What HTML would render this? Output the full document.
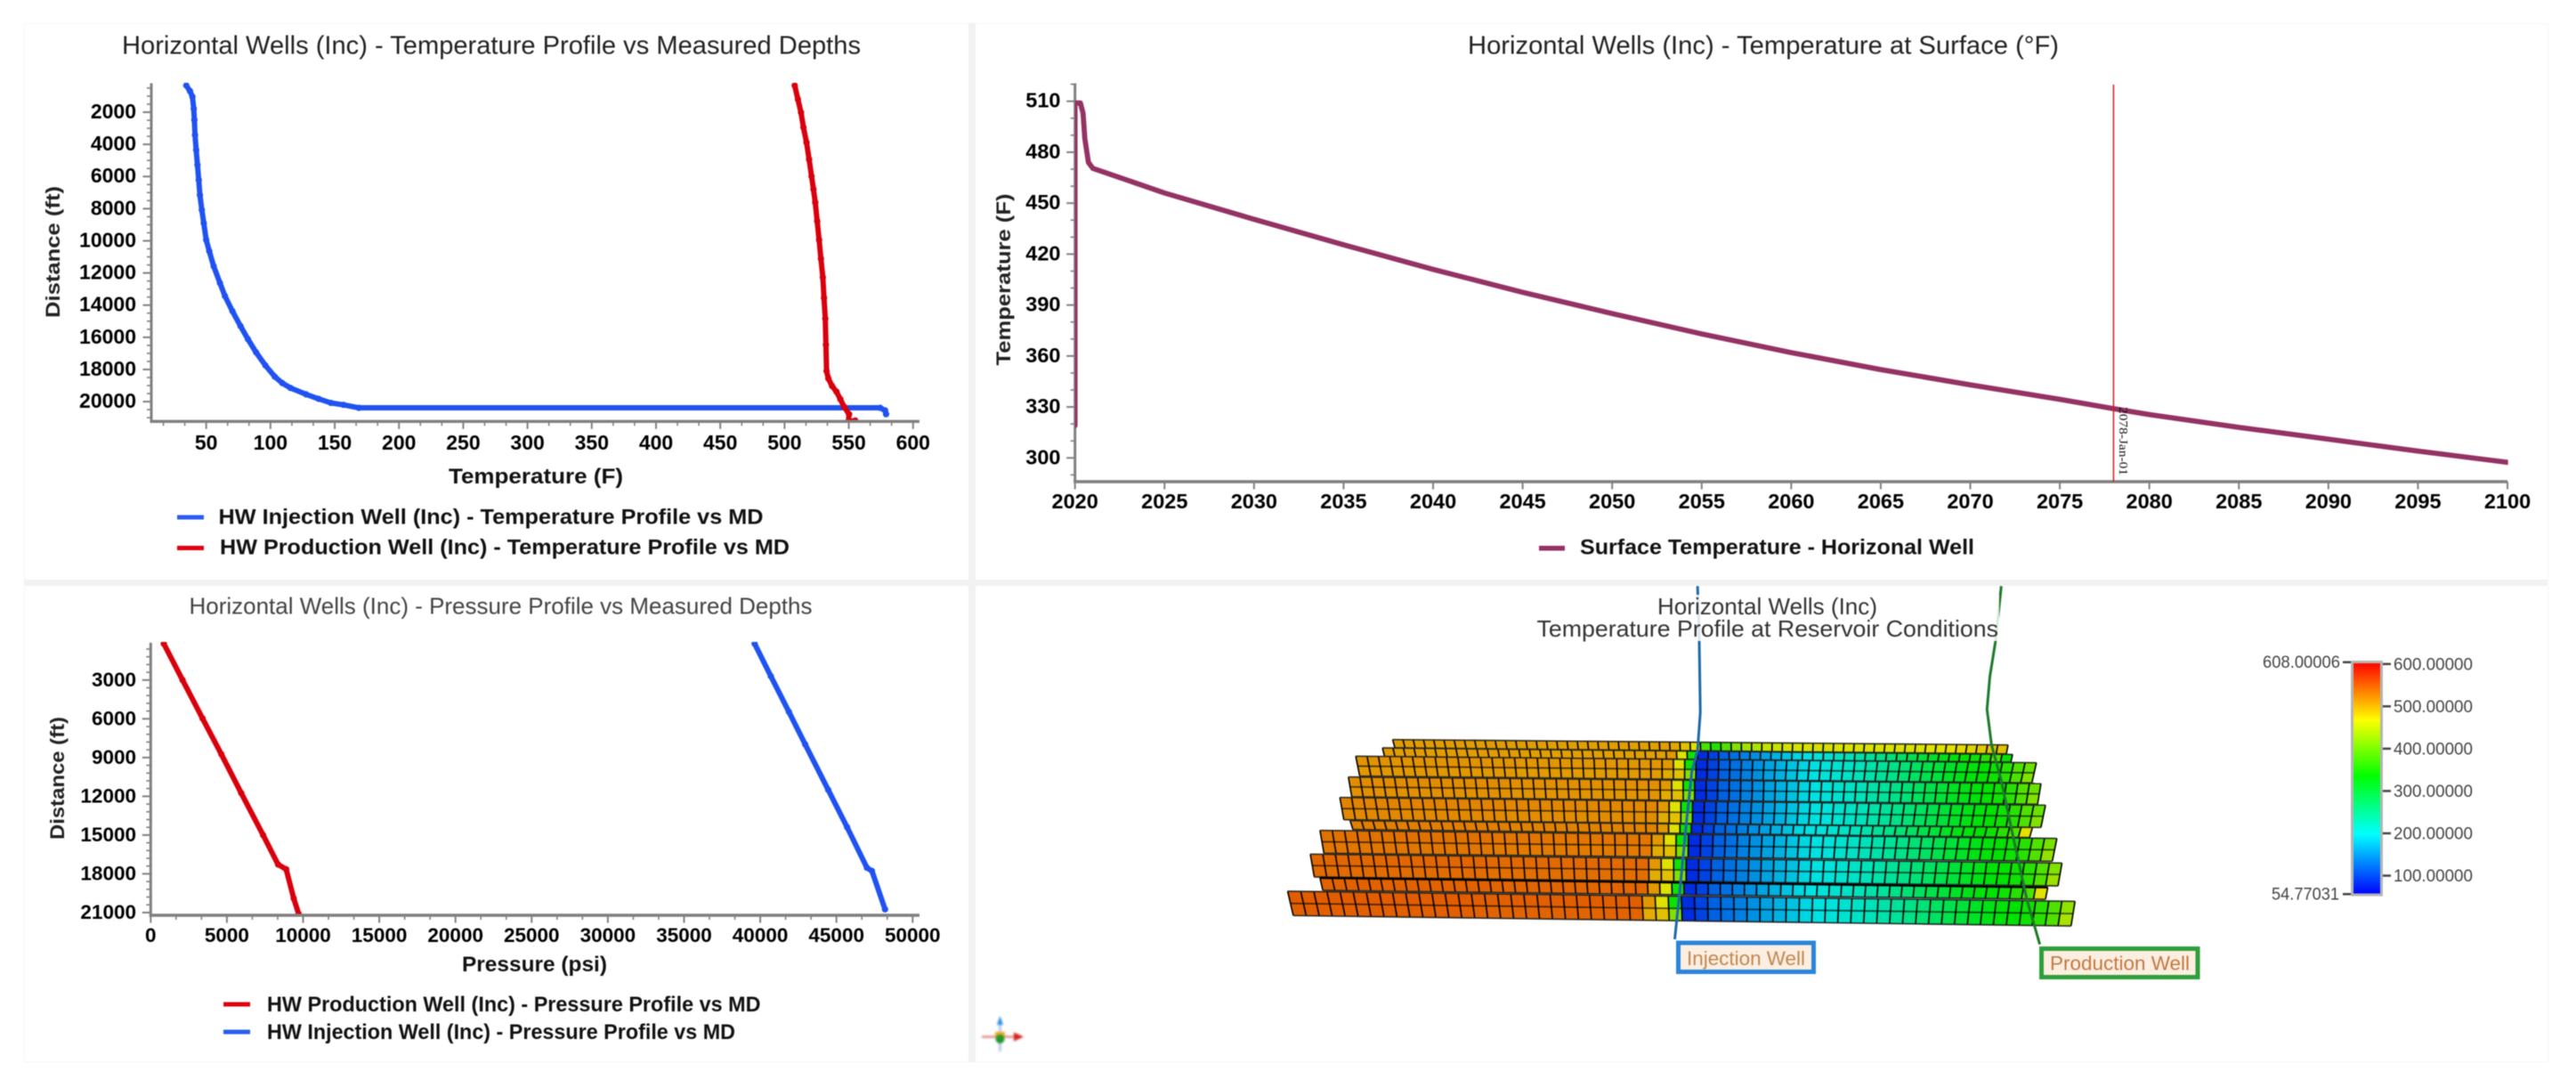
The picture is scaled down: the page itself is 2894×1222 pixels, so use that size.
<!DOCTYPE html>
<html lang="en">
<head>
<meta charset="utf-8">
<title>Horizontal Wells (Inc) dashboard</title>
<style>
  html,body{margin:0;padding:0;background:#fff;width:2894px;height:1222px;overflow:hidden;}
  svg{display:block;filter:blur(0.55px);font-family:"Liberation Sans",sans-serif;}
  .title{font-size:29px;fill:#222;}
  .axis-title{font-size:24px;font-weight:bold;fill:#111;}
  .side-title{font-size:22px;font-weight:bold;fill:#222;}
  .legend-text{font-size:24px;font-weight:bold;fill:#111;}
  .tick-label{font-size:23px;font-weight:bold;fill:#000;}
  .bar-label{font-size:19px;fill:#444;}
</style>
</head>
<body>
<svg id="root" xmlns="http://www.w3.org/2000/svg" width="2894" height="1222" viewBox="0 0 2894 1222">
  <defs>
    <clipPath id="clip-temp"><rect x="170" y="93" width="863" height="381"/></clipPath>
    <clipPath id="clip-surface"><rect x="1207.7" y="93" width="1610" height="448"/></clipPath>
    <clipPath id="clip-press"><rect x="169" y="721" width="864" height="307"/></clipPath>
    <linearGradient id="rainbow" x1="0" y1="0" x2="0" y2="1">
      <stop offset="0" stop-color="#ff0000"/>
      <stop offset="0.25" stop-color="#ffff00"/>
      <stop offset="0.49" stop-color="#00ff00"/>
      <stop offset="0.74" stop-color="#00ffff"/>
      <stop offset="1" stop-color="#0000ff"/>
    </linearGradient>
  </defs>

  <rect x="0" y="0" width="2894" height="1222" fill="#ffffff"/>
  <rect x="27.5" y="26.5" width="2835" height="1166" fill="none" stroke="#f6f6f6" stroke-width="1"/>
  <rect x="1088" y="26" width="8" height="1167" fill="#f2f2f2"/>
  <rect x="27" y="651" width="2835" height="7" fill="#f2f2f2"/>

  <!-- Temperature profile panel -->
  <g id="temp-panel">
    <text class="title" x="137" y="60.5" textLength="830" lengthAdjust="spacingAndGlyphs">Horizontal Wells (Inc) - Temperature Profile vs Measured Depths</text>
    <text class="axis-title" x="504" y="543" textLength="196" lengthAdjust="spacingAndGlyphs">Temperature (F)</text>
    <text class="side-title" transform="translate(67,357) rotate(-90)" textLength="148" lengthAdjust="spacingAndGlyphs">Distance (ft)</text>
    <g>
      <rect x="199" y="578.5" width="30" height="5" fill="#2a5cf0"/>
      <text class="legend-text" x="245.5" y="588.6" textLength="612" lengthAdjust="spacingAndGlyphs">HW Injection Well (Inc) - Temperature Profile vs MD</text>
    </g>
    <g>
      <rect x="199" y="613" width="30" height="5" fill="#e0000c"/>
      <text class="legend-text" x="247" y="622.3" textLength="640" lengthAdjust="spacingAndGlyphs">HW Production Well (Inc) - Temperature Profile vs MD</text>
    </g>
  </g>

  <!-- Surface temperature panel -->
  <g id="surface-panel">
    <text class="title" x="1649" y="60.5" textLength="664" lengthAdjust="spacingAndGlyphs">Horizontal Wells (Inc) - Temperature at Surface (°F)</text>
    <text class="side-title" transform="translate(1135,410.5) rotate(-90)" textLength="193" lengthAdjust="spacingAndGlyphs">Temperature (F)</text>
    <g>
      <rect x="1729" y="613" width="29" height="5.5" fill="#943264"/>
      <text class="legend-text" x="1775" y="622.3" textLength="443" lengthAdjust="spacingAndGlyphs">Surface Temperature - Horizonal Well</text>
    </g>
  </g>

  <!-- Pressure profile panel -->
  <g id="press-panel">
    <text class="title" style="font-size:26px;fill:#444" x="212.5" y="689.5" textLength="700" lengthAdjust="spacingAndGlyphs">Horizontal Wells (Inc) - Pressure Profile vs Measured Depths</text>
    <text class="axis-title" x="519" y="1091" textLength="163" lengthAdjust="spacingAndGlyphs">Pressure (psi)</text>
    <text class="side-title" transform="translate(72,943) rotate(-90)" textLength="138" lengthAdjust="spacingAndGlyphs">Distance (ft)</text>
    <g>
      <rect x="251" y="1125.5" width="30" height="5" fill="#e0000c"/>
      <text class="legend-text" x="300" y="1136" textLength="554.5" lengthAdjust="spacingAndGlyphs">HW Production Well (Inc) - Pressure Profile vs MD</text>
    </g>
    <g>
      <rect x="251" y="1156.5" width="30" height="5" fill="#2a5cf0"/>
      <text class="legend-text" x="300" y="1167" textLength="526" lengthAdjust="spacingAndGlyphs">HW Injection Well (Inc) - Pressure Profile vs MD</text>
    </g>
  </g>

  <!-- Reservoir 3D panel -->
  <g id="mesh-panel">
    <g id="mesh-under"></g>
    <g id="mesh-cells"></g>
    <g id="mesh-over"></g>
    <rect x="1726" y="668" width="520" height="52" fill="#ffffff" fill-opacity="0.84"/>
    <text x="1862" y="690" font-size="26" fill="#333" textLength="247" lengthAdjust="spacingAndGlyphs">Horizontal Wells (Inc)</text>
    <text x="1726.5" y="715" font-size="26" fill="#333" textLength="518.5" lengthAdjust="spacingAndGlyphs">Temperature Profile at Reservoir Conditions</text>

    <g>
      <rect x="1885.5" y="1059" width="152" height="32.5" fill="#fdeee2" stroke="#2a85d8" stroke-width="5"/>
      <text x="1895" y="1084" font-size="22" fill="#c08850" textLength="133" lengthAdjust="spacingAndGlyphs">Injection Well</text>
    </g>
    <g>
      <rect x="2293.5" y="1065.5" width="175.5" height="32" fill="#fdeee2" stroke="#2e9e3a" stroke-width="5"/>
      <text x="2303" y="1089.5" font-size="22" fill="#c07a40" textLength="157" lengthAdjust="spacingAndGlyphs">Production Well</text>
    </g>

    <g id="colorbar">
      <rect x="2642.5" y="743.5" width="33" height="261.5" fill="url(#rainbow)" stroke="#b4b4b4" stroke-width="3"/>
      <rect x="2632" y="742.5" width="9" height="2.5" fill="#444"/>
      <text class="bar-label" x="2629" y="750" text-anchor="end" textLength="87" lengthAdjust="spacingAndGlyphs">608.00006</text>
      <rect x="2632" y="1003" width="9" height="2.5" fill="#444"/>
      <text class="bar-label" x="2628" y="1010.5" text-anchor="end" textLength="76" lengthAdjust="spacingAndGlyphs">54.77031</text>
    </g>

    <g style="filter:blur(1px)">
      <line x1="1103" y1="1164.5" x2="1142" y2="1164.5" stroke="#e08c8c" stroke-width="2.5"/>
      <polygon points="1139,1159.5 1150,1164.5 1139,1169.5" fill="#d82020"/>
      <line x1="1123.5" y1="1150" x2="1123.5" y2="1181" stroke="#b8c8ec" stroke-width="3"/>
      <polygon points="1120,1151 1123.5,1141 1127,1151" fill="#2a8ee8"/>
      <rect x="1118" y="1159" width="11" height="6" fill="#e8a820"/>
      <circle cx="1123.5" cy="1167" r="5" fill="#1f9a2a"/>
    </g>
  </g>
</svg>

<script>
// ---- Temperature profile chart data ----
const tempXTickValues = [50,100,150,200,250,300,350,400,450,500,550,600];
const tempYTickValues = [2000,4000,6000,8000,10000,12000,14000,16000,18000,20000];
const tempInjectionValues = [34.5,37.4,39.3,40.3,40.8,41.3,42.2,43.2,44.2,45.1,46.6,48.1,50,52.4,55.8,60.7,64.6,70.4,76.7,82.5,88.8,96.1,103.4,109.2,115.6,127.7,137.4,147.1,156.8,168.8,574.4,578.3,579];
const tempInjectionDepths = [338,688,1038,1784,2483,3416,4348,5280,6213,7145,8077,8893,9942,10642,11574,12623,13439,14371,15304,16120,16936,17752,18451,18847,19150,19547,19826,20083,20200,20386,20386,20550,20780];
const tempProductionValues = [507.9,510.4,512.8,514.7,517.1,519.1,521,522.5,523.9,525.4,526.9,528.3,529.8,530.7,531.7,532.2,532.7,534.1,537,540.4,543.4,546.3,550.2,549.7,555];
const tempProductionDepths = [338,1200,2016,2948,3881,4930,5979,6795,7611,8776,9942,11107,12273,13555,14837,16468,18100,18566,19032,19382,19848,20314,20780,21247,21177];

// ---- Surface temperature chart data ----
const surfaceXTickValues = [2020,2025,2030,2035,2040,2045,2050,2055,2060,2065,2070,2075,2080,2085,2090,2095,2100];
const surfaceYTickValues = [300,330,360,390,420,450,480,510];
const surfaceYears = [2020,2020,2020.3,2020.45,2020.55,2020.75,2021,2025,2030,2035,2040,2045,2050,2055,2060,2065,2070,2075,2078,2080,2085,2090,2095,2100];
const surfaceTemps = [319,509,509,503,488,474,470.5,456,440.5,425.5,411,397.5,385,373,362,352,343,334.5,329,325.5,318,311,304,297.4];
const surfaceMarkerYears = [2078];
const surfaceMarkerLabels = ['2078-Jan-01'];

// ---- Pressure profile chart data ----
const pressXTickValues = [0,5000,10000,15000,20000,25000,30000,35000,40000,45000,50000];
const pressYTickValues = [3000,6000,9000,12000,15000,18000,21000];
const pressProductionValues = [860,2090,3400,4630,5940,7376,8360,8890,9385,9710];
const pressProductionDepths = [184,3000,5966,8730,11750,15000,17280,17650,19900,21100];
const pressInjectionValues = [39630,40694,41880,42950,44460,45700,47000,47330,48190];
const pressInjectionDepths = [184,2700,5460,7980,11500,14390,17530,17780,20750];

// ---- Reservoir heatmap data (deg F) ----
const colorBarMin = 54.77031;
const colorBarMax = 608.00006;
const colorBarTicks = [600,500,400,300,200,100];
const colorBarTickLabels = ['600.00000','500.00000','400.00000','300.00000','200.00000','100.00000'];
const layerLeftTemps = [510,510,516,520,525,528,536,543,546,550];
const layerEndTemps = [490,330,395,395,395,470,405,410,470,420];
const upperFrontTemps = [515,468,340];
const lowerFrontTemps = [503,490,410];
const coolZoneTemps = [82,96,114,124,134,143,154,164,174,185,193,198,204,210,218,228,238,248,260,272,284,296,308,318,326,332,340,355,380];
const topLayerFrontTemps = [505,490,470,375,350,380,410,430,440,450,455,460,462,462,462,462,465,465,465,465,465,465,465,465,465,470,470,470,475,480,485,488,490];

// Mesh geometry in model units (mapped to the page by meshX / meshY)
const layerSubCounts = [1,1,2,2,2,1,2,2,1,2];
const layerWestTop = [258,240,193,180,165,183,130,113,130,73];
const layerWestBase = [262,244,200,186,172,188,137,120,135,83];
const layerEastTop = [1342,1350,1392,1400,1408,1385,1428,1437,1412,1460];
const layerEastBase = [1339,1347,1384,1394,1400,1380,1420,1430,1408,1453];
const layerWestTopDepth = [542,570,598,668,737,815,848,928,1008,1053];
const layerWestBaseDepth = [570,600,665,735,812,845,925,1005,1050,1135];
const layerEastTopDepth = [560,592,620,690,763,838,875,958,1040,1087];
const layerEastBaseDepth = [590,618,688,760,838,872,952,1035,1080,1170];
const injectionWellEast = [795,797,798,800,795,785,775,765,755];
const injectionWellDepth = [25,120,210,450,580,650,830,1030,1215];
const productionWellEast = [1330,1320,1310,1305,1313,1330,1350,1375,1398];
const productionWellDepth = [25,210,330,440,560,680,860,1080,1232];

const NS = 'http://www.w3.org/2000/svg';
function svgEl(tag, attrs, parent, text) {
  const el = document.createElementNS(NS, tag);
  for (const k in attrs) el.setAttribute(k, attrs[k]);
  if (text !== undefined) el.textContent = text;
  parent.appendChild(el);
  return el;
}
function linear(d0, d1, r0, r1) {
  const f = v => r0 + (v - d0) * (r1 - r0) / (d1 - d0);
  f.d0 = d0; f.d1 = d1; f.r0 = r0; f.r1 = r1;
  return f;
}
const AXIS = '#808080';

function drawAxes(parent, x, y, xTicks, yTicks, xDiv, yDiv, labelEndX, labelBaseY, fontPx) {
  const g = svgEl('g', {}, parent);
  
  
  const left = svgEl('line', {x1:x.r0, x2:x.r0, y1:y.r0, y2:y.r1 + 1.5, stroke:AXIS, 'stroke-width':3}, g);
  
  
  const bottom = svgEl('line', {x1:x.r0 - 1.5, x2:x.r1, y1:y.r1, y2:y.r1, stroke:AXIS, 'stroke-width':3.4}, g);
  
  

  xTicks.forEach(v => {
    const px = x(v);
    const t = svgEl('line', {x1:px, x2:px, y1:y.r1, y2:y.r1 + 8.5, stroke:AXIS, 'stroke-width':2}, g);
    
    
    const l = svgEl('text', {x:px, y:labelBaseY, 'text-anchor':'middle', class:'tick-label', style:'font-size:' + fontPx + 'px'}, g, String(v));
    
    
  });
  yTicks.forEach(v => {
    const py = y(v);
    const t = svgEl('line', {x1:x.r0 - 9.5, x2:x.r0, y1:py, y2:py, stroke:AXIS, 'stroke-width':2}, g);
    
    
    const l = svgEl('text', {x:labelEndX, y:py + 7, 'text-anchor':'end', class:'tick-label', style:'font-size:' + fontPx + 'px'}, g, String(v));
    
    
  });

  if (xDiv > 1) {
    const step = (xTicks[1] - xTicks[0]) / xDiv;
    for (let v = xTicks[0] - step * Math.floor((xTicks[0] - x.d0) / step); v <= x.d1; v += step) {
      if (xTicks.some(m => Math.abs(m - v) < step / 10)) continue;
      const m = svgEl('line', {x1:x(v), x2:x(v), y1:y.r1, y2:y.r1 + 5, stroke:AXIS, 'stroke-width':1.6}, g);
      
      
    }
  }
  if (yDiv > 1) {
    const step = Math.abs(yTicks[1] - yTicks[0]) / yDiv;
    const lo = Math.min(y.d0, y.d1), hi = Math.max(y.d0, y.d1);
    for (let v = yTicks[0] - step * Math.floor((yTicks[0] - lo) / step); v <= hi; v += step) {
      if (yTicks.some(m => Math.abs(m - v) < step / 10)) continue;
      const m = svgEl('line', {x1:x.r0 - 5, x2:x.r0, y1:y(v), y2:y(v), stroke:AXIS, 'stroke-width':1.6}, g);
      
      
    }
  }
}

function drawSeries(parent, x, y, xs, ys, color, width, clip, name, markers) {
  const g = svgEl('g', {'clip-path':'url(#' + clip + ')'}, parent);
  
  
  const pts = xs.map((v, i) => x(v).toFixed(2) + ',' + y(ys[i]).toFixed(2)).join(' ');
  const line = svgEl('polyline', {points:pts, fill:'none', stroke:color, 'stroke-width':width, 'stroke-linejoin':'round', 'stroke-linecap':'round'}, g);
  
  
  if (markers) {
    xs.forEach((v, i) => {
      const c = svgEl('circle', {cx:x(v), cy:y(ys[i]), r:width / 2 + 0.6, fill:color}, g);
      
      
    });
  }
}

// Temperature profile chart
(function () {
  const parent = document.getElementById('temp-panel');
  const x = linear(7.3, 605, 170, 1033);
  const y = linear(200, 21230, 93.5, 473.3);
  drawSeries(parent, x, y, tempInjectionValues, tempInjectionDepths, '#1f52f0', 6, 'clip-temp', 'injection-temperature-series', true);
  drawSeries(parent, x, y, tempProductionValues, tempProductionDepths, '#d8000c', 6, 'clip-temp', 'production-temperature-series', true);
  drawAxes(parent, x, y, tempXTickValues, tempYTickValues, 3, 4, 153, 505, 23);
})();

// Surface temperature chart
(function () {
  const parent = document.getElementById('surface-panel');
  const x = linear(2020, 2100, 1207.7, 2817);
  const y = linear(520.6, 286, 93.5, 541);
  drawAxes(parent, x, y, surfaceXTickValues, surfaceYTickValues, 1, 3, 1191.5, 571, 23.5);
  drawSeries(parent, x, y, surfaceYears, surfaceTemps, '#943264', 5.8, 'clip-surface', 'surface-temperature-series', false);
  surfaceMarkerYears.forEach((yr, i) => {
    const px = x(yr);
    const m = svgEl('line', {x1:px, x2:px, y1:95, y2:541, stroke:'#e01818', 'stroke-width':1.5}, parent);
    
    
    const t = svgEl('text', {transform:'translate(' + (px + 6.5) + ',457) rotate(90)', 'font-family':'"Liberation Serif",serif', 'font-size':14, fill:'#111', textLength:77, lengthAdjust:'spacingAndGlyphs'}, parent, surfaceMarkerLabels[i]);
    
    
  });
})();

// Pressure profile chart
(function () {
  const parent = document.getElementById('press-panel');
  const x = linear(0, 50450, 169.3, 1033);
  const y = linear(112, 21210, 721.9, 1028);
  drawSeries(parent, x, y, pressProductionValues, pressProductionDepths, '#d8000c', 6, 'clip-press', 'production-pressure-series', true);
  drawSeries(parent, x, y, pressInjectionValues, pressInjectionDepths, '#1f52f0', 6, 'clip-press', 'injection-pressure-series', true);
  drawAxes(parent, x, y, pressXTickValues, pressYTickValues, 3, 5, 153, 1058, 22.5);
})();

// Colour map shared by colour bar and mesh
function tempColor(T) {
  let f = (T - colorBarMin) / (colorBarMax - colorBarMin);
  f = Math.max(0, Math.min(1, f));
  let r, g, b;
  if (f < 0.25) { r = 0; g = f / 0.25; b = 1; }
  else if (f < 0.5) { r = 0; g = 1; b = 1 - (f - 0.25) / 0.25; }
  else if (f < 0.75) { r = (f - 0.5) / 0.25; g = 1; b = 0; }
  else { r = 1; g = 1 - (f - 0.75) / 0.25; b = 0; }
  const s = 226;
  return 'rgb(' + Math.round(r * s) + ',' + Math.round(g * s) + ',' + Math.round(b * s) + ')';
}

// Colour bar ticks
(function () {
  const parent = document.getElementById('colorbar');
  const y = linear(colorBarMin, colorBarMax, 1005, 742);
  colorBarTicks.forEach((v, i) => {
    const t = svgEl('rect', {x:2677, y:y(v) - 1.25, width:9, height:2.5, fill:'#444'}, parent);
    
    
    const l = svgEl('text', {x:2689, y:y(v) + 6.5, class:'bar-label', textLength:89, lengthAdjust:'spacingAndGlyphs'}, parent, colorBarTickLabels[i]);
    
    
  });
})();

// Reservoir mesh
function meshX(v) { return 1400 + v * 0.6378; }
function meshY(v) { return 650 + v / 3; }

function cellTemp(layer, sub, col, cols) {
  if (layer === 0 && col >= 27) return topLayerFrontTemps[col - 27];
  if (col === cols - 1) return layerEndTemps[layer] + sub * 15;
  if (col >= 30) return coolZoneTemps[col - 30];
  if (col >= 27) return (sub === 0 ? upperFrontTemps : lowerFrontTemps)[col - 27];
  return layerLeftTemps[layer] - sub * 3 + (col < 14 ? 2 : 0);
}

(function () {
  const parent = document.getElementById('mesh-cells');
  const cols = 60;
  layerSubCounts.forEach((subs, layer) => {
    const P = (u, v) => {
      const wx = layerWestTop[layer] + (layerWestBase[layer] - layerWestTop[layer]) * v;
      const ex = layerEastTop[layer] + (layerEastBase[layer] - layerEastTop[layer]) * v;
      const wy = layerWestTopDepth[layer] + (layerWestBaseDepth[layer] - layerWestTopDepth[layer]) * v;
      const ey = layerEastTopDepth[layer] + (layerEastBaseDepth[layer] - layerEastTopDepth[layer]) * v;
      return [meshX(wx + (ex - wx) * u), meshY(wy + (ey - wy) * u)];
    };
    const g = svgEl('g', {}, parent);
    
    
    for (let s = 0; s < subs; s++) {
      for (let c = 0; c < cols; c++) {
        const a = P(c / cols, s / subs), b = P((c + 1) / cols, s / subs);
        const d = P((c + 1) / cols, (s + 1) / subs), e = P(c / cols, (s + 1) / subs);
        const color = tempColor(cellTemp(layer, s, c, cols));
        const cell = svgEl('polygon', {points:[a, b, d, e].map(p => p[0].toFixed(1) + ',' + p[1].toFixed(1)).join(' '), fill:color, stroke:color, 'stroke-width':0.4}, g);
        
        
      }
    }
    for (let c = 0; c <= cols; c++) {
      const a = P(c / cols, 0), b = P(c / cols, 1);
      const v = svgEl('line', {x1:a[0], y1:a[1], x2:b[0], y2:b[1], stroke:'#000', 'stroke-width':1.6}, g);
      
      
    }
    for (let s = 0; s <= subs; s++) {
      const a = P(0, s / subs), b = P(1, s / subs);
      const h = svgEl('line', {x1:a[0], y1:a[1], x2:b[0], y2:b[1], stroke:(s === 0 || s === subs) ? '#222' : '#000', 'stroke-opacity':(s === 0 || s === subs) ? 0.9 : 0.65, 'stroke-width':1.7}, g);
      
      
    }
  });

  const sep = svgEl('line', {x1:meshX(130), y1:meshY(1008), x2:meshX(1412), y2:meshY(1040), stroke:'#000', 'stroke-width':2.4}, parent);
  
  

  const over = document.getElementById('mesh-over');
  const injPts = injectionWellEast.map((v, i) => meshX(v).toFixed(1) + ',' + meshY(injectionWellDepth[i]).toFixed(1)).join(' ');
  const prodPts = productionWellEast.map((v, i) => meshX(v).toFixed(1) + ',' + meshY(productionWellDepth[i]).toFixed(1)).join(' ');
  const inj = svgEl('polyline', {points:injPts, fill:'none', stroke:'#1f68a8', 'stroke-width':3, 'stroke-linejoin':'round'}, over);
  
  
  const prod = svgEl('polyline', {points:prodPts, fill:'none', stroke:'#1c7a2c', 'stroke-width':3, 'stroke-linejoin':'round'}, over);
  
  
})();
</script>
</body>
</html>
